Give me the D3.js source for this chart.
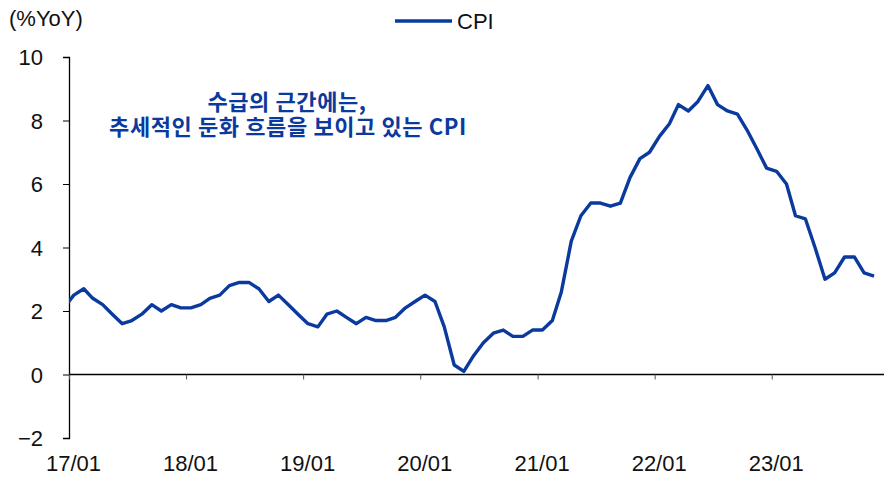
<!DOCTYPE html>
<html><head><meta charset="utf-8">
<script src="https://cdn.jsdelivr.net/npm/d3@7"></script>
<style>
html,body{margin:0;padding:0;background:#fff;}
svg{display:block;}
.num{font-family:"Liberation Sans Narrow","Arial Narrow","Liberation Sans",Arial,sans-serif;font-size:22px;fill:#111;}
.ann{font-family:"Noto Sans CJK KR","Noto Sans",sans-serif;font-weight:700;font-size:22px;letter-spacing:0.6px;fill:#0a3a9e;}
</style></head>
<body>
<svg id="c" width="884" height="477"></svg>
<script>
// Monthly US CPI YoY (%), 2016/12 .. 2023/11
const months = [
 "16/12",
 "17/01","17/02","17/03","17/04","17/05","17/06","17/07","17/08","17/09","17/10","17/11","17/12",
 "18/01","18/02","18/03","18/04","18/05","18/06","18/07","18/08","18/09","18/10","18/11","18/12",
 "19/01","19/02","19/03","19/04","19/05","19/06","19/07","19/08","19/09","19/10","19/11","19/12",
 "20/01","20/02","20/03","20/04","20/05","20/06","20/07","20/08","20/09","20/10","20/11","20/12",
 "21/01","21/02","21/03","21/04","21/05","21/06","21/07","21/08","21/09","21/10","21/11","21/12",
 "22/01","22/02","22/03","22/04","22/05","22/06","22/07","22/08","22/09","22/10","22/11","22/12",
 "23/01","23/02","23/03","23/04","23/05","23/06","23/07","23/08","23/09","23/10","23/11"
];
const cpi = [
 2.1,
 2.5,2.7,2.4,2.2,1.9,1.6,1.7,1.9,2.2,2.0,2.2,2.1,
 2.1,2.2,2.4,2.5,2.8,2.9,2.9,2.7,2.3,2.5,2.2,1.9,
 1.6,1.5,1.9,2.0,1.8,1.6,1.8,1.7,1.7,1.8,2.1,2.3,
 2.5,2.3,1.5,0.3,0.1,0.6,1.0,1.3,1.4,1.2,1.2,1.4,
 1.4,1.7,2.6,4.2,5.0,5.4,5.4,5.3,5.4,6.2,6.8,7.0,
 7.5,7.9,8.5,8.3,8.6,9.1,8.5,8.3,8.2,7.7,7.1,6.5,
 6.4,6.0,5.0,4.9,4.0,3.0,3.2,3.7,3.7,3.2,3.1
];
const xTickLabels = ["17/01","18/01","19/01","20/01","21/01","22/01","23/01"];
const yTicks = [-2,0,2,4,6,8,10];
const seriesName = "CPI";
const unitLabel = "(%YoY)";
const annotation = ["수급의 근간에는,", "추세적인 둔화 흐름을 보이고 있는 CPI"];

(function(){
const svg = d3.select("#c");
const mL = 69, mR = 884, mT = 57, mB = 438;
const parseM = s => { const [yy, mm] = s.split("/").map(Number); return new Date(2000 + yy, mm - 1, 1); };
const mid = s => { const d = parseM(s); return new Date(d.getFullYear(), d.getMonth(), 16); };

const x = d3.scaleTime().domain([new Date(2017,0,1), new Date(2023,11,17)]).range([mL, mR]);
const y = d3.scaleLinear().domain([-2, 10]).range([mB, mT]);
const lineColor = "#0a3a9e";

svg.append("clipPath").attr("id","clip").append("rect")
  .attr("x", mL).attr("y", 0).attr("width", mR - mL).attr("height", 477);

// y axis
const yAxis = d3.axisLeft(y).tickValues(yTicks).tickSize(6).tickPadding(20)
  .tickFormat(d => d < 0 ? "\u2212" + Math.abs(d) : d);
const ga = svg.append("g").attr("transform", `translate(${mL},0)`).call(yAxis);
ga.attr("font-family", null).attr("font-size", null);
ga.select(".domain").attr("stroke","#000").attr("stroke-width",1.3);
ga.selectAll(".tick line").attr("stroke","#000").attr("stroke-width",1);
ga.selectAll(".tick text").attr("class","num").attr("dy","0.36em");

// x axis at zero
const xAxis = d3.axisBottom(x).tickValues(xTickLabels.map(parseM)).tickSize(5).tickFormat((d,i) => xTickLabels[i]);
const gx = svg.append("g").attr("transform", `translate(0,${y(0)})`).call(xAxis);
gx.attr("font-family", null).attr("font-size", null);
gx.select(".domain").attr("stroke","#000").attr("stroke-width",1.3).attr("d", `M${mL},0H${mR}`);
gx.selectAll(".tick line").attr("stroke","#555").attr("stroke-width",1);
gx.selectAll(".tick text").attr("class","num").attr("dx", 4)
  .attr("y", mB + 33 - y(0)).attr("dy", 0).attr("text-anchor","middle");

// line
const line = d3.line().x((d,i) => x(mid(months[i]))).y(d => y(d));
svg.append("path").datum(cpi).attr("clip-path","url(#clip)")
  .attr("d", line).attr("fill","none").attr("stroke", lineColor)
  .attr("stroke-width", 3.4).attr("stroke-linejoin","round");

// unit label
svg.append("text").attr("class","num").attr("x", 9).attr("y", 26).text(unitLabel);

// legend
svg.append("line").attr("x1", 395).attr("x2", 452).attr("y1", 21).attr("y2", 21)
  .attr("stroke", lineColor).attr("stroke-width", 3.4);
svg.append("text").attr("class","num").attr("x", 457).attr("y", 29).text(seriesName);

// annotation
svg.append("text").attr("class","ann").attr("x", 287).attr("y", 110).attr("text-anchor","middle").text(annotation[0]);
svg.append("text").attr("class","ann").attr("x", 288).attr("y", 135).attr("text-anchor","middle").text(annotation[1]);
})();
</script>
</body></html>
